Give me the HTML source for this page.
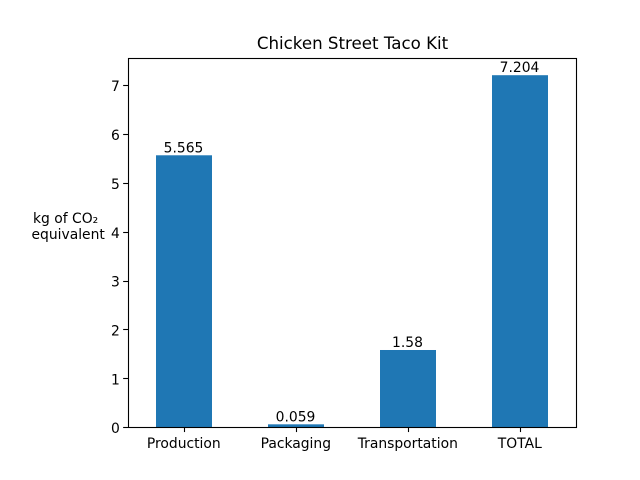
<!DOCTYPE html>
<html>
<head>
<meta charset="utf-8">
<style>
html,body{margin:0;padding:0;background:#fff;}
svg{display:block;}
text{font-family:"DejaVu Sans",sans-serif;font-size:13.89px;fill:#000;}
</style>
</head>
<body>
<svg id="chart" xmlns="http://www.w3.org/2000/svg" width="640" height="480" viewBox="0 0 640 480">
<rect x="0" y="0" width="640" height="480" fill="#ffffff"/>
<text x="352.5" y="49" text-anchor="middle" style="font-size:16.67px">Chicken Street Taco Kit</text>
<text x="33" y="223">kg of CO₂</text>
<text x="31.5" y="239">equivalent</text>
<g id="plot"></g>
</svg>
<script>
const categories = ["Production", "Packaging", "Transportation", "TOTAL"];
const values = [5.565, 0.059, 1.58, 7.204];
const valueLabels = ["5.565", "0.059", "1.58", "7.204"];
const yTicks = [0, 1, 2, 3, 4, 5, 6, 7];

const plotLeft = 128, plotRight = 576, plotTop = 57.6, plotBottom = 427.2;
const xMin = -0.5, xMax = 3.5, barWidth = 0.5;
const yMax = Math.max(...values) * 1.05;
const xScale = v => plotLeft + (v - xMin) / (xMax - xMin) * (plotRight - plotLeft);
const yScale = v => plotBottom - v / yMax * (plotBottom - plotTop);
const snap = v => Math.round(v) + 0.5;

const NS = "http://www.w3.org/2000/svg";
const plot = document.getElementById("plot");
function make(tag, attrs, text) {
  const el = document.createElementNS(NS, tag);
  for (const k in attrs) el.setAttribute(k, attrs[k]);
  if (text !== undefined) el.textContent = text;
  plot.appendChild(el);
  return el;
}

categories.forEach((cat, i) => {
  const bar = make("rect", {
    x: xScale(i - barWidth / 2),
    y: yScale(values[i]),
    width: xScale(i + barWidth / 2) - xScale(i - barWidth / 2),
    height: plotBottom - yScale(values[i]),
    fill: "#1f77b4"
  });
  
  

  const label = make("text", {
    x: xScale(i) - 0.5,
    y: yScale(values[i]) - 3,
    "text-anchor": "middle"
  }, valueLabels[i]);
  
  

  const tick = make("line", {
    x1: snap(xScale(i)), x2: snap(xScale(i)),
    y1: plotBottom, y2: plotBottom + 4.86,
    stroke: "#000", "stroke-width": 1.1
  });
  
  

  const tickLabel = make("text", {
    x: xScale(i) - 0.2,
    y: 448,
    "text-anchor": "middle"
  }, cat);
  
  
});

yTicks.forEach(t => {
  const tick = make("line", {
    x1: plotLeft - 4.86, x2: plotLeft,
    y1: snap(yScale(t)), y2: snap(yScale(t)),
    stroke: "#000", "stroke-width": 1.1
  });
  
  

  const tickLabel = make("text", {
    x: plotLeft - 8.2,
    y: yScale(t) + 6,
    "text-anchor": "end"
  }, String(t));
  
  
});

const frame = make("rect", {
  x: snap(plotLeft),
  y: snap(plotTop),
  width: snap(plotRight) - snap(plotLeft),
  height: snap(plotBottom) - snap(plotTop),
  fill: "none",
  stroke: "#000",
  "stroke-width": 1.1
});


</script>
</body>
</html>
